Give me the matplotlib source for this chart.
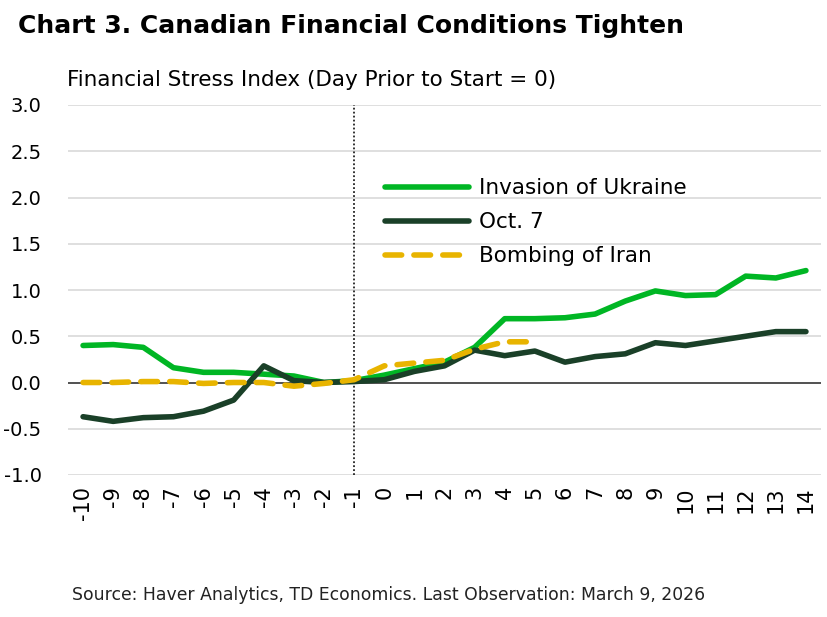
import matplotlib
matplotlib.use("Agg")
import matplotlib.pyplot as plt
import numpy as np

days = list(range(-10, 15))
ukraine = [0.40, 0.41, 0.38, 0.16, 0.11, 0.11, 0.09, 0.07, 0.00, 0.02, 0.08, 0.15, 0.22,
           0.38, 0.69, 0.69, 0.70, 0.74, 0.88, 0.99, 0.94, 0.95, 1.15, 1.13, 1.21]
oct7 = [-0.37, -0.42, -0.38, -0.37, -0.31, -0.19, 0.18, 0.02, 0.00, 0.01, 0.03, 0.12, 0.18,
        0.35, 0.29, 0.34, 0.22, 0.28, 0.31, 0.43, 0.40, 0.45, 0.50, 0.55, 0.55]
iran_days = list(range(-10, 6))
iran = [0.00, 0.00, 0.01, 0.01, -0.01, 0.00, 0.00, -0.04, -0.01, 0.03, 0.18, 0.21, 0.24,
        0.36, 0.44, 0.44]
yticks = [-1.0, -0.5, 0.0, 0.5, 1.0, 1.5, 2.0, 2.5, 3.0]

plt.rcParams['font.family'] = ['DejaVu Sans']

fig = plt.figure(figsize=(8.27, 6.17), dpi=100)
ax = fig.add_axes([68/827, 1-475/617, (821-68)/827, (475-105)/617])

for y in yticks:
    if y != 0:
        ax.axhline(y, color='#d9d9d9', lw=1.2, zorder=0)
ax.axhline(0, color='#333333', lw=1.2, zorder=1)
ax.axvline(-1, color='#222222', lw=1.3, ls=(0, (1, 1.2)), zorder=1)

ax.plot(days, ukraine, color='#00b624', lw=4, solid_capstyle='round', label='Invasion of Ukraine', zorder=3)
ax.plot(days, oct7, color='#1a4028', lw=4, solid_capstyle='round', label='Oct. 7', zorder=4)
ax.plot(iran_days, iran, color='#e8b400', lw=4, ls=(0, (3, 2.2)), dash_capstyle='round',
        label='Bombing of Iran', zorder=5)

ax.set_xlim(-10.5, 14.5)
ax.set_ylim(-1.0, 3.0)
ax.set_yticks(yticks)
ax.set_yticklabels([f"{v:.1f}" for v in yticks], fontsize=14)
ax.set_xticks(days)
ax.set_xticklabels([str(d) for d in days], rotation=90, fontsize=15)
ax.tick_params(length=0, pad=8)
ax.tick_params(axis='y', pad=19)
for s in ax.spines.values():
    s.set_visible(False)

leg = ax.legend(loc='upper left', bbox_to_anchor=(0.41, 0.825), frameon=False, fontsize=15.5,
                handlelength=3.9, handletextpad=0.45, labelspacing=0.65, borderaxespad=0)

fig.text(18/827, 1-26/617, "Chart 3. Canadian Financial Conditions Tighten", fontsize=18,
         fontweight='bold', va='center', ha='left')
fig.text(67/827, 1-80/617, "Financial Stress Index (Day Prior to Start = 0)", fontsize=15.5,
         va='center', ha='left')
fig.text(72/827, 1-595/617, "Source: Haver Analytics, TD Economics. Last Observation: March 9, 2026",
         fontsize=12.4, va='center', ha='left', color='#222222')

fig.savefig("out.png", dpi=100)
